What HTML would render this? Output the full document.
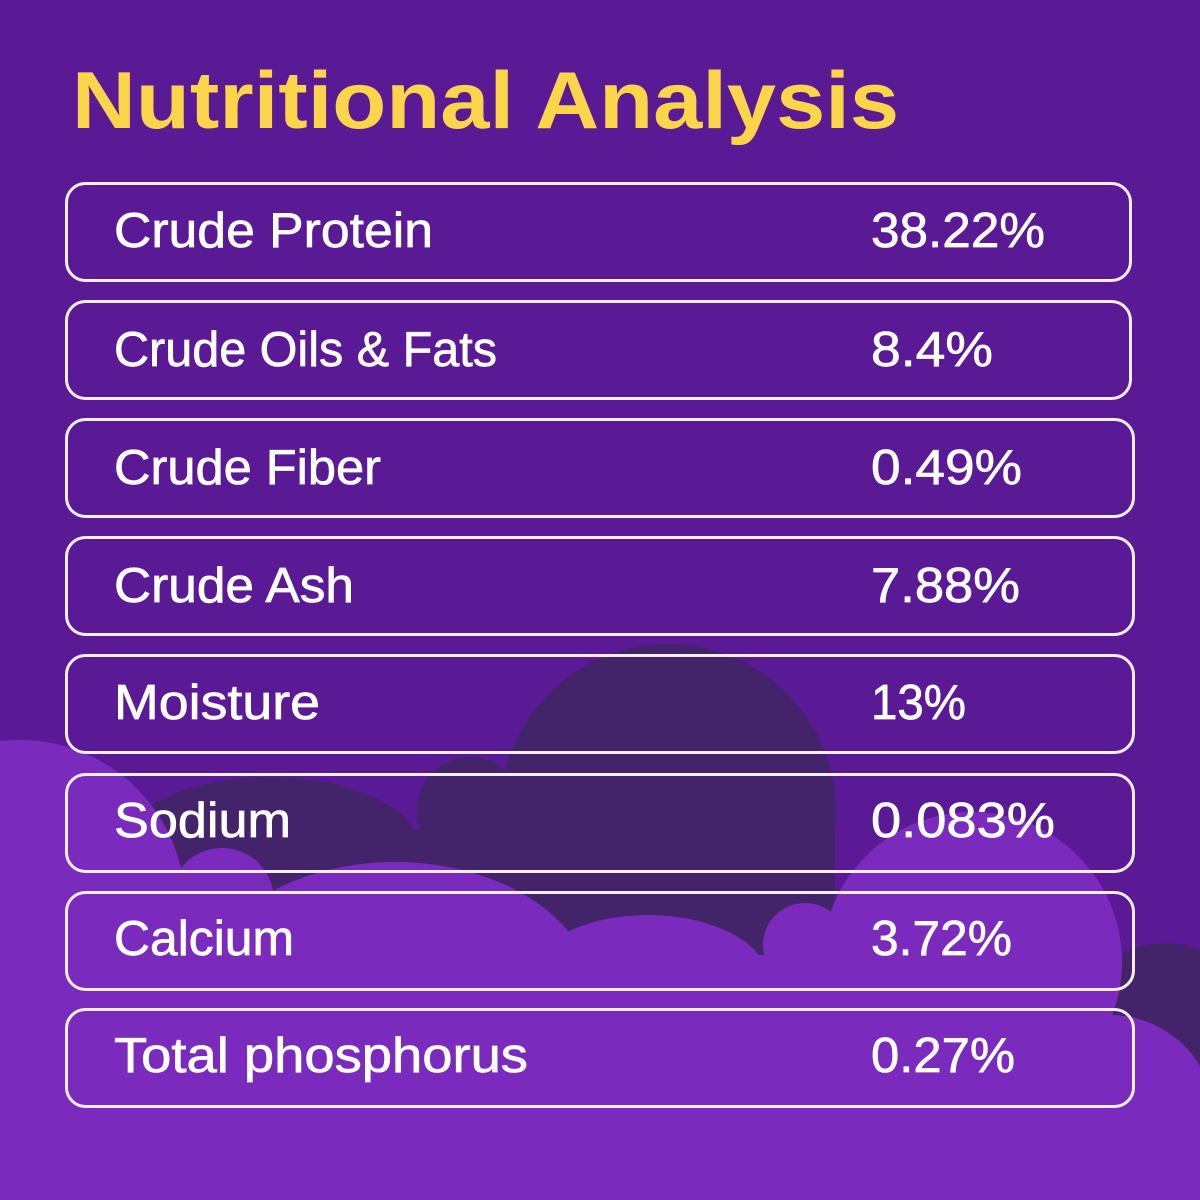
<!DOCTYPE html>
<html>
<head>
<meta charset="utf-8">
<style>
  html, body { margin: 0; padding: 0; background: #5a1a96; }
  svg { display: block; }
  .lbl { font-family: "Liberation Sans", sans-serif; font-size: 49px; fill: #ffffff; stroke: #ffffff; stroke-width: 0.7px; }
  .ttl { font-family: "Liberation Sans", sans-serif; font-size: 81px; font-weight: bold; fill: #fad54a; }
</style>
</head>
<body>
<svg width="1200" height="1200" viewBox="0 0 1200 1200" xmlns="http://www.w3.org/2000/svg">
  <rect x="0" y="0" width="1200" height="1200" fill="#5a1a96"/>

  <!-- dark cloud -->
  <g fill="#43236a">
    <circle cx="668" cy="812" r="168"/>
    <circle cx="470" cy="810" r="53"/>
    <ellipse cx="270" cy="850" rx="150" ry="73"/>
    <rect x="160" y="830" width="675" height="140"/>
    <circle cx="1165" cy="1035" r="92"/>
  </g>

  <!-- light cloud -->
  <g fill="#7a2bbd">
    <circle cx="20" cy="905" r="165"/>
    <circle cx="222" cy="900" r="52"/>
    <ellipse cx="395" cy="1000" rx="200" ry="138"/>
    <ellipse cx="648" cy="980" rx="120" ry="65"/>
    <circle cx="805" cy="945" r="42"/>
    <circle cx="972" cy="962" r="150"/>
    <circle cx="1110" cy="1120" r="105"/>
    <rect x="0" y="900" width="260" height="60"/>
    <rect x="0" y="955" width="1110" height="245"/>
    <rect x="0" y="1130" width="1200" height="70"/>
  </g>

  <!-- title -->
  <text class="ttl" x="72" y="128" textLength="827" lengthAdjust="spacingAndGlyphs">Nutritional Analysis</text>

  <!-- boxes -->
  <g fill="none" stroke="#f4eefc" stroke-width="3">
    <rect x="66.5" y="183.5" width="1064" height="97" rx="19"/>
    <rect x="66.5" y="301.5" width="1064" height="97" rx="19"/>
    <rect x="66.5" y="419.5" width="1067" height="97" rx="19"/>
    <rect x="66.5" y="537.5" width="1067" height="97" rx="19"/>
    <rect x="66.5" y="655.5" width="1067" height="97" rx="19"/>
    <rect x="66.5" y="774.5" width="1067" height="97" rx="19"/>
    <rect x="66.5" y="892.5" width="1067" height="97" rx="19"/>
    <rect x="66.5" y="1009.5" width="1067" height="97" rx="19"/>
  </g>

  <!-- labels -->
  <text class="lbl" x="114" y="247" textLength="319" lengthAdjust="spacingAndGlyphs">Crude Protein</text>
  <text class="lbl" x="114" y="366" textLength="383" lengthAdjust="spacingAndGlyphs">Crude Oils &amp; Fats</text>
  <text class="lbl" x="114" y="484" textLength="267" lengthAdjust="spacingAndGlyphs">Crude Fiber</text>
  <text class="lbl" x="114" y="602" textLength="240" lengthAdjust="spacingAndGlyphs">Crude Ash</text>
  <text class="lbl" x="114" y="719" textLength="206" lengthAdjust="spacingAndGlyphs">Moisture</text>
  <text class="lbl" x="114" y="837" textLength="177" lengthAdjust="spacingAndGlyphs">Sodium</text>
  <text class="lbl" x="114" y="955" textLength="180" lengthAdjust="spacingAndGlyphs">Calcium</text>
  <text class="lbl" x="114" y="1072" textLength="414" lengthAdjust="spacingAndGlyphs">Total phosphorus</text>

  <!-- values -->
  <text class="lbl" x="871" y="247" textLength="174" lengthAdjust="spacingAndGlyphs">38.22%</text>
  <text class="lbl" x="871" y="366" textLength="122" lengthAdjust="spacingAndGlyphs">8.4%</text>
  <text class="lbl" x="871" y="484" textLength="151" lengthAdjust="spacingAndGlyphs">0.49%</text>
  <text class="lbl" x="871" y="602" textLength="149" lengthAdjust="spacingAndGlyphs">7.88%</text>
  <text class="lbl" x="871" y="719" textLength="95" lengthAdjust="spacingAndGlyphs">13%</text>
  <text class="lbl" x="871" y="837" textLength="184" lengthAdjust="spacingAndGlyphs">0.083%</text>
  <text class="lbl" x="871" y="955" textLength="141" lengthAdjust="spacingAndGlyphs">3.72%</text>
  <text class="lbl" x="871" y="1072" textLength="144" lengthAdjust="spacingAndGlyphs">0.27%</text>
</svg>
</body>
</html>
